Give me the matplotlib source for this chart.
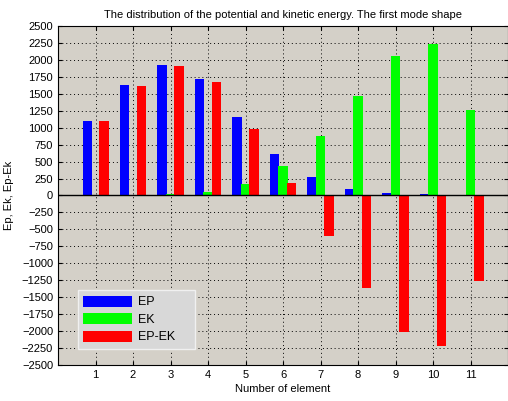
import numpy as np
import matplotlib.pyplot as plt

# energy per element, first mode shape
elements = list(range(1, 12))
ep = [1097, 1624, 1928, 1717, 1152, 605, 276, 103, 39, 20, 2]
ek = [1, 4, 18, 49, 172, 428, 871, 1471, 2057, 2234, 1265]
ep_ek = [1096, 1620, 1910, 1668, 980, 177, -595, -1368, -2018, -2214, -1263]
yticks = list(range(-2500, 2501, 250))

plt.rcParams['font.family'] = ['Liberation Sans', 'DejaVu Sans']
plt.rcParams['font.size'] = 8

fig = plt.figure(figsize=(5.08, 4.01), dpi=100)
ax = fig.add_axes([0.1142, 0.0898, 0.8858, 0.8454])
ax.set_facecolor('#d4d0c8')

x = np.array(elements)
w = 0.25
ax.bar(x - 0.222, ep, w, color='#0000ff', label='EP', zorder=3)
ax.bar(x, ek, w, color='#00ff00', label='EK', zorder=3)
ax.bar(x + 0.222, ep_ek, w, color='#ff0000', label='EP-EK', zorder=3)
ax.axhline(0, color='black', linewidth=1, zorder=4)

ax.set_xlim(0, 12)
ax.set_ylim(-2500, 2500)
ax.set_xticks(elements)
ax.set_yticks(yticks)
ax.tick_params(direction='in', length=3, top=True, right=True, labelsize=8)
ax.grid(True, linestyle=(0, (1, 3)), color='black', linewidth=0.7, zorder=1)

ax.set_title('The distribution of the potential and kinetic energy. The first mode shape', fontsize=8, pad=6)
ax.set_xlabel('Number of element', fontsize=8, labelpad=3)
ax.set_ylabel('Ep, Ek, Ep-Ek', fontsize=8, labelpad=6)

# legend box stretched to a fixed width in the lower left corner
leg = ax.legend(loc='lower left', bbox_to_anchor=(0.044, 0.047, 0.26, 0.1), mode='expand',
                borderaxespad=0, fancybox=False, facecolor='#d8d8d8', edgecolor='#f0f0f0',
                framealpha=1, fontsize=9, handlelength=3.9, handleheight=1.0,
                borderpad=0.45, labelspacing=0.37, handletextpad=0.45)
leg.get_frame().set_linewidth(1)

fig.savefig('out.png', dpi=100)
